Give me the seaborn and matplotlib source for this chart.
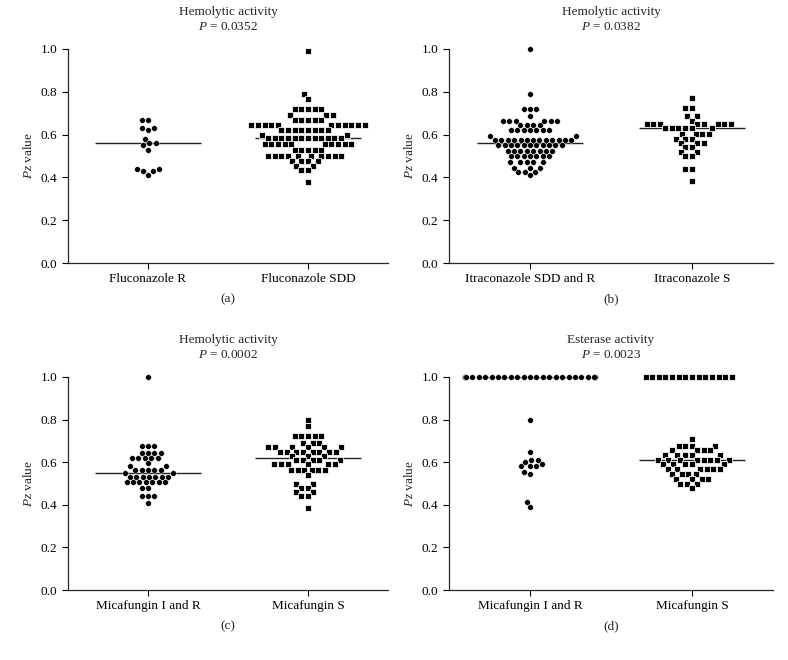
import numpy as np
import pandas as pd
import matplotlib
matplotlib.use('Agg')
import matplotlib.pyplot as plt
import seaborn as sns

# ---- data (Pz values) ----
titles = ['Hemolytic activity', 'Hemolytic activity', 'Hemolytic activity', 'Esterase activity']
pvalues = ['0.0352', '0.0382', '0.0002', '0.0023']
panel_tags = ['(a)', '(b)', '(c)', '(d)']
groups = [['Fluconazole R', 'Fluconazole SDD'],
          ['Itraconazole SDD and R', 'Itraconazole S'],
          ['Micafungin I and R', 'Micafungin S'],
          ['Micafungin I and R', 'Micafungin S']]

fluco_r = [0.67, 0.67, 0.63, 0.62, 0.63, 0.58, 0.56, 0.56, 0.53, 0.55,
           0.44, 0.44, 0.43, 0.43, 0.41]
fluco_sdd = ([0.99, 0.79, 0.765] + [0.72] * 5 + [0.69] * 3 + [0.67] * 5 +
             [0.645] * 11 + [0.62] * 8 + [0.60] * 2 + [0.585] * 12 +
             [0.555] * 10 + [0.53] * 5 + [0.50] * 10 + [0.475] * 4 +
             [0.455] * 2 + [0.435] * 2 + [0.38])

itra_sddr = ([1.0, 0.79] + [0.72] * 3 + [0.685] + [0.665] * 6 +
             [0.645] * 4 + [0.62] * 7 + [0.595] * 2 + [0.575] * 13 +
             [0.55] * 11 + [0.525] * 8 + [0.50] * 7 + [0.47] * 5 +
             [0.445] * 3 + [0.425] * 3 + [0.41])
itra_s = ([0.77] + [0.725] * 2 + [0.685] * 2 + [0.665] + [0.648] * 8 +
          [0.63] * 6 + [0.605] * 4 + [0.58] * 3 + [0.56] * 3 + [0.54] * 2 +
          [0.52] * 2 + [0.50] * 2 + [0.44] * 2 + [0.385])

mica_ir_hem = ([1.0] + [0.675] * 3 + [0.645] * 4 + [0.62] * 5 + [0.595] +
               [0.58] * 2 + [0.565] * 5 + [0.55] * 2 + [0.53] * 7 +
               [0.505] * 7 + [0.478] * 2 + [0.44] * 3 + [0.41])
mica_s_hem = ([0.80, 0.77] + [0.725] * 5 + [0.69] * 3 + [0.67] * 6 +
              [0.65] * 8 + [0.63] * 3 + [0.61] * 5 + [0.59] * 6 +
              [0.565] * 6 + [0.54] + [0.50] * 2 + [0.48] * 2 +
              [0.46] * 2 + [0.44] * 2 + [0.385])

mica_ir_est = ([1.0] * 32 + [0.80, 0.65, 0.61, 0.61, 0.60, 0.59] +
               [0.58] * 3 + [0.555, 0.545, 0.415, 0.39])
mica_s_est = ([1.0] * 14 + [0.71] + [0.675] * 4 + [0.655] * 4 +
              [0.635] * 5 + [0.61] * 8 + [0.59] * 5 + [0.567] * 6 +
              [0.545] * 4 + [0.52] * 4 + [0.50] * 3 + [0.48])

panel_values = [[fluco_r, fluco_sdd], [itra_sddr, itra_s],
                [mica_ir_hem, mica_s_hem], [mica_ir_est, mica_s_est]]
yticks = [0.0, 0.2, 0.4, 0.6, 0.8, 1.0]

sns.set_style('ticks')
plt.rcParams['font.family'] = ['Liberation Serif', 'DejaVu Serif']
plt.rcParams['mathtext.fontset'] = 'custom'
plt.rcParams['mathtext.it'] = 'Liberation Serif:italic'
plt.rcParams['mathtext.rm'] = 'Liberation Serif'
plt.rcParams['font.size'] = 9.5

fig = plt.figure(figsize=(7.88, 6.6), dpi=100)
boxes = [[0.0863, 0.6015, 0.406, 0.3243],
         [0.5698, 0.6015, 0.4112, 0.3243],
         [0.0863, 0.106, 0.406, 0.3228],
         [0.5698, 0.106, 0.4112, 0.3228]]

for i in range(4):
    ax = fig.add_axes(boxes[i])
    left, right = groups[i]
    vals_l, vals_r = panel_values[i]
    df = pd.DataFrame({'group': [left] * len(vals_l) + [right] * len(vals_r),
                       'pz': vals_l + vals_r})
    order = [left, right]

    # thin white edges keep a small gap between neighbouring markers
    sns.swarmplot(data=df[df.group == left], x='group', y='pz', order=order,
                  color='black', marker='o', size=4.1, linewidth=0.3,
                  edgecolor='white', warn_thresh=1, ax=ax)
    sns.swarmplot(data=df[df.group == right], x='group', y='pz', order=order,
                  color='black', marker='s', size=4.0, linewidth=0.55,
                  edgecolor='white', warn_thresh=1, ax=ax)
    sns.boxplot(data=df, x='group', y='pz', order=order, width=0.66,
                showbox=False, showcaps=False, showfliers=False,
                whiskerprops={'visible': False},
                medianprops={'color': '#222222', 'linewidth': 1.0}, ax=ax)
    for coll in ax.collections:
        coll.set_clip_on(False)

    ax.set_xlim(-0.5, 1.5)
    ax.set_ylim(0, 1.0)
    ax.set_yticks(yticks)
    ax.set_yticklabels(['%.1f' % t for t in yticks])
    ax.set_xlabel('')
    ax.set_ylabel('$\\it{Pz}$ value', fontsize=9.5)
    ax.set_title(titles[i] + '\n$\\it{P}$ = ' + pvalues[i], fontsize=9.5,
                 pad=14, linespacing=1.3)
    ax.tick_params(axis='both', length=4, width=0.8, colors='black',
                   labelsize=9.5)
    for s in ['left', 'bottom']:
        ax.spines[s].set_linewidth(0.9)
    sns.despine(ax=ax)
    ax.text(0.5, -0.17, panel_tags[i], transform=ax.transAxes,
            ha='center', va='center', fontsize=9.5)

fig.savefig('out.png', dpi=100)
